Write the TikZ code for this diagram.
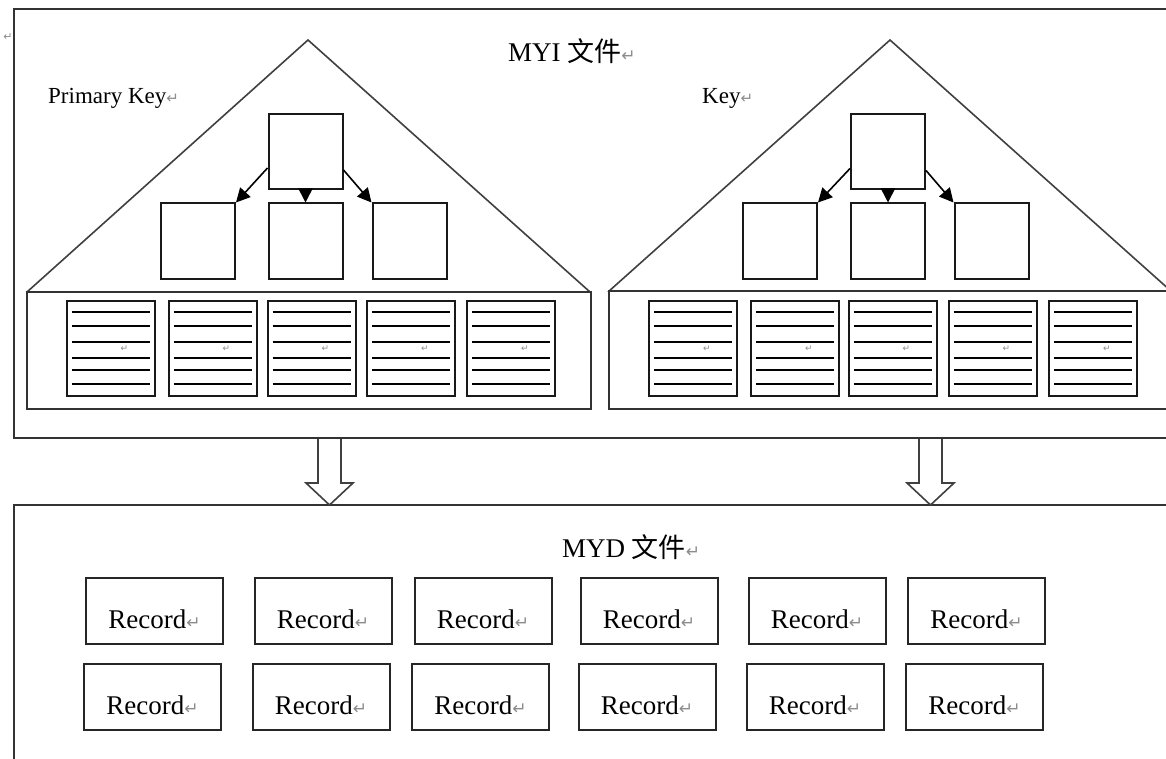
\documentclass[tikz,border=0pt]{standalone}
\usepackage{fontspec}
\setmainfont{Liberation Serif}
\newfontfamily\cjkfont{Noto Sans CJK SC}
\newfontfamily\symfont{DejaVu Sans}
\usetikzlibrary{arrows.meta}
\newcommand{\retmark}[1][17]{{\symfont\fontsize{#1}{#1}\selectfont\color{black!45}↵}}
\begin{document}
\begin{tikzpicture}[x=1pt,y=-1pt,
  frame/.style={draw=black!80, line width=2pt},
  tri/.style={draw=black!75, line width=1.6pt},
  tbox/.style={draw=black!90, line width=2pt, minimum width=74pt, minimum height=75pt, inner sep=0pt},
  page/.style={draw=black!90, line width=2pt, minimum width=88pt, minimum height=95pt, inner sep=0pt},
  pline/.style={line width=2pt},
  rec/.style={draw=black!85, line width=2pt, minimum width=137pt, minimum height=66pt, inner sep=0pt,
              text height=35pt, text depth=0pt, font=\fontsize{27}{30}\selectfont},
  arr/.style={-{Triangle[length=14pt,width=14pt]}, line width=1.6pt},
  blk/.style={draw=black!75, fill=white, line width=1.6pt},
  lbl/.style={inner sep=0pt, anchor=base west, font=\fontsize{27}{30}\selectfont},
  small/.style={inner sep=0pt, anchor=base west, font=\fontsize{23}{26}\selectfont},
  tiny/.style={inner sep=0pt, text=black!45}
]
\useasboundingbox (0,0) rectangle (1166,759);
\clip (0,0) rectangle (1166,759);
\fill[white] (0,0) rectangle (1166,759);

% outer frames
\draw[frame] (14,9) rectangle (1200,438);
\draw[frame] (14,505) rectangle (1200,800);

\node[tiny, font=\symfont\fontsize{11}{11}\selectfont] (topmark) at (8,37) {↵};

% titles
\node[lbl] (myi) at (508,62) {MYI {\cjkfont 文件}\retmark};
\node[lbl] (myd) at (562,557) {MYD {\cjkfont 文件}\retmark};
\node[small] (pk) at (48,104) {Primary Key\retmark[15]};
\node[small] (key) at (702,104) {Key\retmark[15]};

% triangles
\draw[tri] (27,292) -- (308,40) -- (590,292);
\draw[tri] (608,292) -- (890,40) -- (1172,292);

% leaf frames
\draw[frame] (27,292) rectangle (591,409);
\draw[frame] (609,291) rectangle (1200,409);

% left tree
\node[tbox] (rootL) at (305.5,151.5) {};
\node[tbox] (cL1) at (198,241) {};
\node[tbox] (cL2) at (305.5,241) {};
\node[tbox] (cL3) at (409.5,241) {};
\draw[arr] ([yshift=22pt]rootL.south west) -- (cL1.north east);
\draw[arr] (rootL.south) -- (cL2.north);
\draw[arr] ([yshift=20pt]rootL.south east) -- (cL3.north west);

% right tree
\node[tbox] (rootR) at (888,152) {};
\node[tbox] (cR1) at (780,241) {};
\node[tbox] (cR2) at (888,241) {};
\node[tbox] (cR3) at (991.5,241) {};
\draw[arr] ([yshift=22pt]rootR.south west) -- (cR1.north east);
\draw[arr] (rootR.south) -- (cR2.north);
\draw[arr] ([yshift=20pt]rootR.south east) -- (cR3.north west);

% leaf pages
\foreach \n/\cx in {1/110.5,2/212.5,3/311.5,4/411,5/511,6/693,7/795,8/892.5,9/992.5,10/1093} {
  \node[page] (pg\n) at (\cx,348.5) {};
  \foreach \d in {12,26,42,58,70,84}
    \draw[pline] ([xshift=6pt,yshift={-\d*1pt}]pg\n.north west) -- ([xshift=-6pt,yshift={-\d*1pt}]pg\n.north east);
  \node[tiny, font=\symfont\fontsize{9}{9}\selectfont] (pm\n) at ([xshift=14pt]pg\n.center) {↵};
}

% hollow block arrows
\draw[blk] (318,439) -- (318,483) -- (306,483) -- (329.5,505) -- (353,483) -- (341,483) -- (341,439);
\draw[blk] (919,439) -- (919,483) -- (907,483) -- (930.5,505) -- (954,483) -- (942,483) -- (942,439);

% records
\foreach \n/\cx in {1/154.5,2/323,3/483,4/649,5/817,6/976.5}
  \node[rec] (ra\n) at (\cx,610.5) {Record\retmark};
\foreach \n/\cx in {1/152.5,2/321,3/480.5,4/647,5/815,6/974.5}
  \node[rec] (rb\n) at (\cx,696.5) {Record\retmark};
\end{tikzpicture}
\end{document}
